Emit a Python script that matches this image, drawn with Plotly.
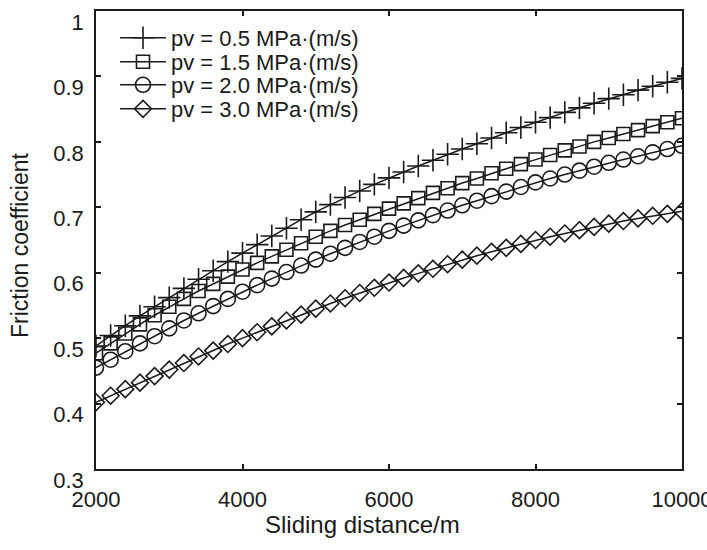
import plotly.graph_objects as go

distance = list(range(2000, 10001, 200))

pv05 = [0.488, 0.504, 0.519, 0.534, 0.548, 0.562, 0.576, 0.590, 0.603, 0.617,
        0.630, 0.643, 0.656, 0.668, 0.681, 0.693, 0.704, 0.715, 0.725, 0.735,
        0.745, 0.754, 0.763, 0.772, 0.781, 0.789, 0.797, 0.806, 0.814, 0.822,
        0.830, 0.837, 0.845, 0.852, 0.859, 0.866, 0.872, 0.879, 0.885, 0.891, 0.897]
pv15 = [0.477, 0.492, 0.507, 0.521, 0.535, 0.548, 0.560, 0.572, 0.583, 0.594,
        0.605, 0.615, 0.625, 0.635, 0.645, 0.655, 0.664, 0.673, 0.681, 0.690,
        0.698, 0.706, 0.714, 0.722, 0.729, 0.737, 0.744, 0.752, 0.759, 0.766,
        0.773, 0.780, 0.787, 0.793, 0.800, 0.806, 0.812, 0.818, 0.824, 0.830, 0.836]
pv20 = [0.455, 0.467, 0.480, 0.492, 0.503, 0.515, 0.527, 0.538, 0.549, 0.560,
        0.571, 0.581, 0.591, 0.601, 0.611, 0.620, 0.629, 0.638, 0.647, 0.655,
        0.664, 0.672, 0.680, 0.688, 0.695, 0.703, 0.710, 0.717, 0.724, 0.731,
        0.738, 0.744, 0.750, 0.756, 0.762, 0.768, 0.773, 0.778, 0.784, 0.789, 0.794]
pv30 = [0.402, 0.412, 0.422, 0.432, 0.442, 0.452, 0.462, 0.472, 0.481, 0.491,
        0.500, 0.509, 0.518, 0.527, 0.536, 0.545, 0.553, 0.561, 0.569, 0.577,
        0.585, 0.592, 0.599, 0.606, 0.613, 0.620, 0.626, 0.632, 0.638, 0.644,
        0.650, 0.655, 0.660, 0.665, 0.670, 0.675, 0.679, 0.683, 0.687, 0.690, 0.694]

series_names = ["pv = 0.5 MPa·(m/s)", "pv = 1.5 MPa·(m/s)",
                "pv = 2.0 MPa·(m/s)", "pv = 3.0 MPa·(m/s)"]
series_values = [pv05, pv15, pv20, pv30]
symbols = ["cross-thin-open", "square-open", "circle-open", "diamond-open"]
sizes = [16, 13, 15, 13]

x_ticks = [2000, 4000, 6000, 8000, 10000]
y_ticks = [0.3, 0.4, 0.5, 0.6, 0.7, 0.8, 0.9, 1.0]
y_labels = ["0.3", "0.4", "0.5", "0.6", "0.7", "0.8", "0.9", "1"]

FONT = "Liberation Sans, Arial, sans-serif"
INK = "#1a1a1a"

W, H = 707, 550
ML, MR, MT, MB = 96, 25, 11, 81
PW, PH = W - ML - MR, H - MT - MB

# legend rows (one legend per series so row spacing matches the reference)
legend_rows_px = [38, 62, 85, 109]
legend_ids = ["legend", "legend2", "legend3", "legend4"]

fig = go.Figure()
for name, vals, sym, sz, lid in zip(series_names, series_values, symbols, sizes, legend_ids):
    fig.add_trace(go.Scatter(
        x=distance, y=vals, name=name, mode="lines+markers",
        line=dict(color=INK, width=1.5),
        marker=dict(symbol=sym, size=sz, color=INK,
                    line=dict(color=INK, width=1.6)),
        legend=lid,
    ))

legend_common = dict(xanchor="left", yanchor="middle",
                     bgcolor="rgba(0,0,0,0)", borderwidth=0,
                     font=dict(family=FONT, size=22, color=INK),
                     itemwidth=46)
layout_legends = {}
for lid, row in zip(legend_ids, legend_rows_px):
    layout_legends[lid] = dict(x=(115 - ML) / PW,
                               y=(MT + PH - row) / PH, **legend_common)

fig.update_layout(
    width=W, height=H,
    margin=dict(l=ML, r=MR, t=MT, b=MB, autoexpand=False),
    paper_bgcolor="white", plot_bgcolor="white",
    font=dict(family=FONT, size=22, color=INK),
    showlegend=True,
    **layout_legends,
)
fig.update_xaxes(
    range=[2000, 10000], tickvals=x_ticks, ticktext=[str(v) for v in x_ticks],
    ticks="inside", ticklen=5, tickwidth=1.5, tickcolor=INK,
    showline=True, linecolor=INK, linewidth=1.5, mirror="ticks",
    showgrid=False, zeroline=False, ticklabelstandoff=10,
    ticklabeloverflow="allow", tickfont=dict(size=22), automargin=False,
)
fig.update_yaxes(
    range=[0.3, 1.0], tickvals=y_ticks, ticktext=y_labels,
    ticks="inside", ticklen=5, tickwidth=1.5, tickcolor=INK,
    showline=True, linecolor=INK, linewidth=1.5, mirror="ticks",
    showgrid=False, zeroline=False, ticklabelshift=11, ticklabelstandoff=6,
    ticklabeloverflow="allow", tickfont=dict(size=22), automargin=False,
)

fig.add_annotation(text="Sliding distance/m", xref="paper", yref="paper",
                   x=(362 - ML) / PW, y=-(524 - MT - PH) / PH,
                   xanchor="center", yanchor="middle", showarrow=False,
                   font=dict(family=FONT, size=24, color=INK))
fig.add_annotation(text="Friction coefficient", xref="paper", yref="paper",
                   x=(20 - ML) / PW, y=(MT + PH - 245) / PH, textangle=-90,
                   xanchor="center", yanchor="middle", showarrow=False,
                   font=dict(family=FONT, size=23, color=INK))

fig.write_html("out.html")
